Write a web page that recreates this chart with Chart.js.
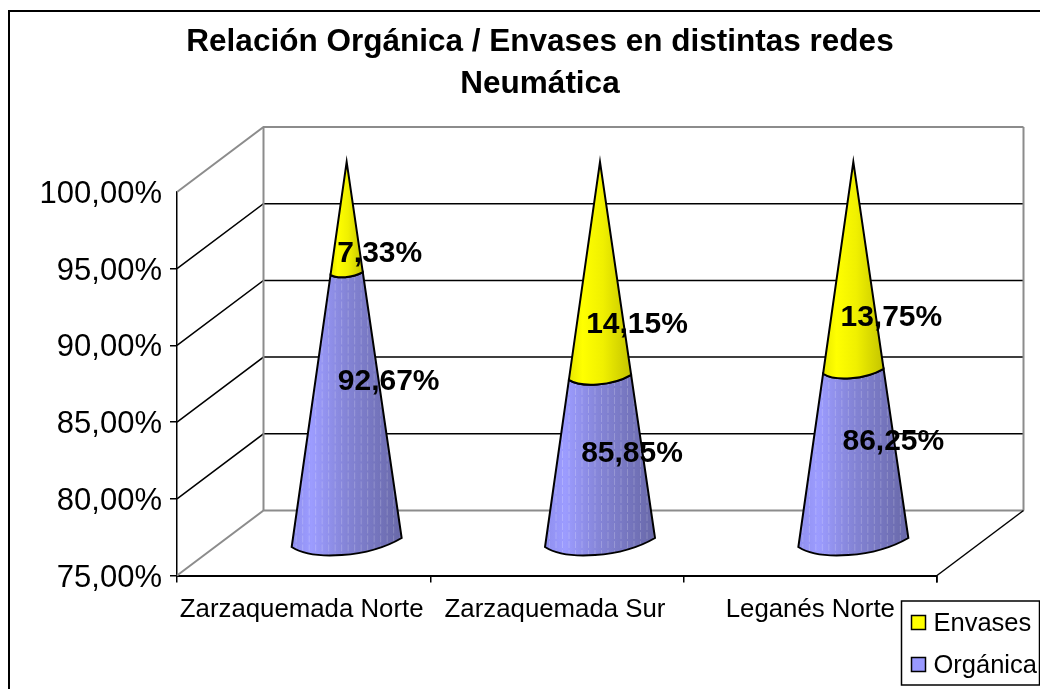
<!DOCTYPE html>
<html><head><meta charset="utf-8">
<style>html,body{margin:0;padding:0;background:#fff}canvas{display:block}</style>
<script src="https://cdn.jsdelivr.net/npm/chart.js@4"></script></head>
<body><canvas id="c" width="1040" height="689"></canvas>
<script>
const categories = ['Zarzaquemada Norte', 'Zarzaquemada Sur', 'Leganés Norte'];
const organica = [92.67, 85.85, 86.25];
const envases = [7.33, 14.15, 13.75];
const titleLines = ['Relación Orgánica / Envases en distintas redes', 'Neumática'];

// label placement: fraction along each cone segment, and sideways nudge in px
const orgLabelAt = [0.39, 0.436, 0.386], envLabelAt = [0.80, 0.74, 0.73];
const orgLabelDx = [42, 32, 40], envLabelDx = [33, 37, 38];
const xLabelDx = [-2, -2, 0];

const FONT = '"Liberation Sans", Arial, sans-serif';
const depth = {dx: 86.5, dy: 65}, coneDepth = {dx: 43, dy: 30}, coneHalf = 55;
const titleShift = 71.5;
const fmt = v => v.toFixed(2).replace('.', ',') + '%';

function shade(ctx, cx, w, stops) {
  const g = ctx.createLinearGradient(cx - w, 0, cx + w, 0);
  stops.forEach(s => g.addColorStop(s[0], s[1]));
  return g;
}
const purple = [[0,'#8f8fee'],[0.18,'#9c9cff'],[0.5,'#8484d6'],[1,'#6868a8']];
const yellow = [[0,'#e8e800'],[0.22,'#ffff00'],[0.55,'#f0f000'],[1,'#c4c400']];

function rimTo(ctx, cx, y, t, forward) {
  const w = coneHalf * t;
  const L = [cx - w, y + 1.5*t], R = [cx + w, y - 7.5*t];
  const c1 = [cx - w*0.62, y + 15*t], c2 = [cx + w*0.38, y + 12.5*t];
  if (forward) ctx.bezierCurveTo(c1[0], c1[1], c2[0], c2[1], R[0], R[1]);
  else ctx.bezierCurveTo(c2[0], c2[1], c1[0], c1[1], L[0], L[1]);
}

function drawCone(ctx, cx, tip, split, base) {
  const t = (split - tip) / (base - tip), wS = coneHalf * t;
  const lower = () => {
    ctx.beginPath();
    ctx.moveTo(cx - wS, split + 1.5*t);
    rimTo(ctx, cx, split, t, true);
    ctx.lineTo(cx + coneHalf, base - 7.5);
    rimTo(ctx, cx, base, 1, false);
    ctx.closePath();
  };
  lower();
  ctx.fillStyle = shade(ctx, cx, coneHalf, purple);
  ctx.fill();
  ctx.save();
  lower(); ctx.clip();
  ctx.strokeStyle = 'rgba(255,255,255,0.2)';
  ctx.lineWidth = 1; ctx.setLineDash([7, 2]);
  for (let x = cx - coneHalf + 4; x < cx + coneHalf; x += 6.5) {
    ctx.beginPath(); ctx.moveTo(x + .5, split); ctx.lineTo(x + .5, base + 12); ctx.stroke();
  }
  ctx.restore();
  ctx.strokeStyle = '#000'; ctx.lineWidth = 2; ctx.setLineDash([]);
  lower(); ctx.stroke();
  ctx.beginPath();
  ctx.moveTo(cx, tip);
  ctx.lineTo(cx - wS, split + 1.5*t);
  rimTo(ctx, cx, split, t, true);
  ctx.closePath();
  ctx.fillStyle = shade(ctx, cx, wS, yellow);
  ctx.fill();
  ctx.stroke();
}

const cone3d = {
  id: 'cone3d',
  afterLayout(chart) {
    chart.titleBlock.left += titleShift;
    chart.titleBlock.right += titleShift;
    chart.scales.y.getLabelItems().forEach(it => { it.options.translation[1] += 2.5; });
    chart.scales.x.getLabelItems().forEach((it, i) => { it.options.translation[0] += xLabelDx[i]; });
  },
  beforeDraw(chart) {
    const ctx = chart.ctx;
    ctx.save();
    ctx.fillStyle = '#fff'; ctx.fillRect(0, 0, chart.width, chart.height);
    ctx.strokeStyle = '#000'; ctx.lineWidth = 2;
    ctx.beginPath(); ctx.moveTo(9, chart.height); ctx.lineTo(9, 11); ctx.lineTo(chart.width, 11); ctx.stroke();
    ctx.restore();
  },
  beforeDatasetsDraw(chart) {
    const ctx = chart.ctx, a = chart.chartArea, y = chart.scales.y;
    const bx = a.left + depth.dx, brx = a.right + depth.dx;
    ctx.save();
    y.ticks.forEach(tk => {
      const p = y.getPixelForValue(tk.value), edge = tk.value === y.min || tk.value === y.max;
      ctx.strokeStyle = edge ? '#8c8c8c' : '#000';
      ctx.lineWidth = edge ? 2 : 1.5;
      ctx.beginPath();
      ctx.moveTo(a.left, p); ctx.lineTo(bx, p - depth.dy); ctx.lineTo(brx, p - depth.dy);
      ctx.stroke();
    });
    ctx.strokeStyle = '#8c8c8c'; ctx.lineWidth = 2;
    ctx.beginPath();
    ctx.moveTo(bx, a.top - depth.dy); ctx.lineTo(bx, a.bottom - depth.dy);
    ctx.moveTo(brx, a.top - depth.dy); ctx.lineTo(brx, a.bottom - depth.dy);
    ctx.stroke();
    ctx.strokeStyle = '#000'; ctx.lineWidth = 1.5;
    ctx.beginPath(); ctx.moveTo(a.right, a.bottom); ctx.lineTo(brx, a.bottom - depth.dy); ctx.stroke();
    ctx.beginPath(); ctx.moveTo(a.right, a.bottom); ctx.lineTo(a.right, a.bottom + 7); ctx.stroke();
    ctx.restore();
  },
  beforeDatasetDraw() { return false; },
  afterDatasetsDraw(chart) {
    const ctx = chart.ctx, y = chart.scales.y;
    const m0 = chart.getDatasetMeta(0), m1 = chart.getDatasetMeta(1);
    const base = y.getPixelForValue(y.min) - coneDepth.dy;
    ctx.save();
    categories.forEach((_, i) => {
      const cx = m0.data[i].x + coneDepth.dx;
      const split = m0.data[i].y - coneDepth.dy, tip = m1.data[i].y - coneDepth.dy;
      drawCone(ctx, cx, tip, split, base);
    });
    ctx.fillStyle = '#000'; ctx.font = 'bold 30px ' + FONT;
    ctx.textAlign = 'center'; ctx.textBaseline = 'middle';
    categories.forEach((_, i) => {
      const cx = m0.data[i].x + coneDepth.dx;
      const split = m0.data[i].y - coneDepth.dy, tip = m1.data[i].y - coneDepth.dy;
      ctx.fillText(fmt(envases[i]), cx + envLabelDx[i], tip + (split - tip) * envLabelAt[i] + 2);
      ctx.fillText(fmt(organica[i]), cx + orgLabelDx[i], split + (base - split) * orgLabelAt[i] + 2);
    });
    ctx.restore();
  },
  afterDraw(chart) {
    const ctx = chart.ctx;
    ctx.save();
    ctx.fillStyle = '#fff'; ctx.strokeStyle = '#000'; ctx.lineWidth = 1.5;
    ctx.fillRect(901, 601, 139, 84);
    ctx.strokeRect(901.5, 601, 138, 84);
    ctx.font = '25.5px ' + FONT; ctx.textBaseline = 'middle'; ctx.textAlign = 'left';
    [chart.data.datasets[1], chart.data.datasets[0]].forEach((d, i) => {
      const sy = 615.5 + i * 42;
      ctx.fillStyle = d.backgroundColor;
      ctx.fillRect(911.5, sy, 14, 14);
      ctx.lineWidth = 1.5; ctx.strokeRect(911.5, sy, 14, 14);
      ctx.fillStyle = '#000';
      ctx.fillText(d.label, 933.5, sy + 8);
    });
    ctx.restore();
  }
};

new Chart(document.getElementById('c'), {
  type: 'bar',
  plugins: [cone3d],
  data: {
    labels: categories,
    datasets: [
      {label: 'Orgánica', data: organica, backgroundColor: '#9999ff', stack: 's'},
      {label: 'Envases', data: envases, backgroundColor: '#ffff00', stack: 's'}
    ]
  },
  options: {
    responsive: false,
    animation: false,
    events: [],
    layout: {padding: {left: 0, right: 103, top: 0, bottom: 0}},
    plugins: {
      legend: {display: false},
      tooltip: {enabled: false},
      title: {
        display: true, text: titleLines, color: '#000',
        font: {family: FONT, size: 31.5, weight: 'bold', lineHeight: 1.333},
        padding: {top: 21.5, bottom: 86.5}
      }
    },
    scales: {
      x: {
        stacked: true, offset: true,
        grid: {offset: true, drawOnChartArea: false, color: '#000', tickLength: 7, lineWidth: 1.5},
        border: {color: '#000', width: 2},
        ticks: {color: '#000', font: {family: FONT, size: 25.8}, maxRotation: 0, minRotation: 0, autoSkip: false, padding: 12},
        afterFit(s) { s.height = 113.5; }
      },
      y: {
        stacked: true, min: 75, max: 100,
        grid: {drawOnChartArea: false, tickLength: 7, lineWidth: 1.5,
               tickColor: c => c.tick && c.tick.value === 100 ? 'rgba(0,0,0,0)' : '#000'},
        border: {color: '#000', width: 1.5},
        ticks: {stepSize: 5, color: '#000', font: {family: FONT, size: 31}, padding: 8, callback: v => fmt(v)},
        afterFit(s) { s.width = 177; }
      }
    }
  }
});
</script></body></html>
